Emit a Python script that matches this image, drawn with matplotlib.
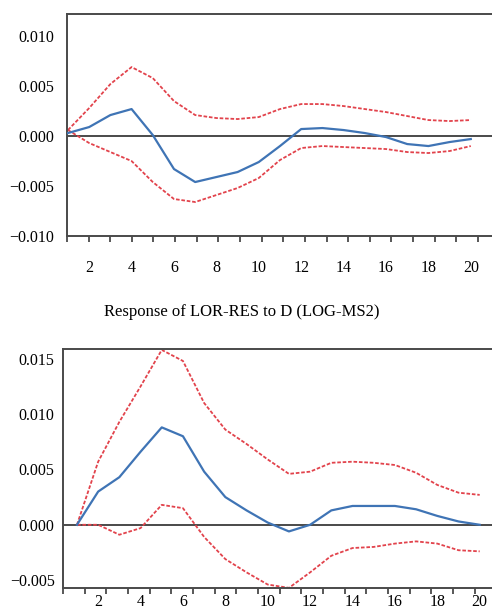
import matplotlib
matplotlib.use("Agg")
import matplotlib.pyplot as plt
import numpy as np

plt.rcParams['font.family'] = ['Liberation Serif', 'DejaVu Serif']
plt.rcParams['font.size'] = 11.5

periods = list(range(1, 21))

# top panel: response (blue) and +/- 2 s.e. bands (red)
top_resp = [0.0003, 0.0009, 0.0021, 0.0027, 0.0001, -0.0033, -0.0046, -0.0041, -0.0036, -0.0026,
            -0.0010, 0.0007, 0.0008, 0.0006, 0.0003, -0.0001, -0.0008, -0.0010, -0.0006, -0.0003]
top_upper = [0.0006, 0.0028, 0.0052, 0.0069, 0.0058, 0.0035, 0.0021, 0.0018, 0.0017, 0.0019,
             0.0027, 0.0032, 0.0032, 0.0030, 0.0027, 0.0024, 0.0020, 0.0016, 0.0015, 0.0016]
top_lower = [0.0006, -0.0007, -0.0016, -0.0025, -0.0046, -0.0063, -0.0066, -0.0059, -0.0052, -0.0042,
             -0.0024, -0.0012, -0.0010, -0.0011, -0.0012, -0.0013, -0.0016, -0.0017, -0.0015, -0.0010]

# bottom panel: Response of LOR-RES to D (LOG-MS2)
bot_resp = [0.0, 0.0030, 0.0043, 0.0066, 0.0088, 0.0080, 0.0048, 0.0025, 0.0013, 0.0002,
            -0.0006, 0.0000, 0.0013, 0.0017, 0.0017, 0.0017, 0.0014, 0.0008, 0.0003, 0.0000]
bot_upper = [0.0, 0.0057, 0.0093, 0.0125, 0.0158, 0.0148, 0.0110, 0.0086, 0.0073, 0.0059,
             0.0046, 0.0048, 0.0056, 0.0057, 0.0056, 0.0054, 0.0047, 0.0036, 0.0029, 0.0027]
bot_lower = [0.0, 0.0, -0.0009, -0.0003, 0.0018, 0.0015, -0.0011, -0.0031, -0.0043, -0.0054,
             -0.0057, -0.0043, -0.0028, -0.0021, -0.0020, -0.0017, -0.0015, -0.0017, -0.0023, -0.0024]

title = "Response of LOR-RES to D (LOG-MS2)"
x_labels = [2, 4, 6, 8, 10, 12, 14, 16, 18, 20]
top_yticks = [0.010, 0.005, 0.000, -0.005, -0.010]
bot_yticks = [0.015, 0.010, 0.005, 0.000, -0.005]

BLUE = '#3f74b5'
RED = '#e2434c'
GRAY = '#4a4a4a'

fig = plt.figure(figsize=(4.92, 6.13), dpi=100)
ax1 = fig.add_axes([0.136, 0.615, 0.864, 0.362])
ax2 = fig.add_axes([0.128, 0.041, 0.872, 0.390])


def fmt(v):
    s = f"{abs(v):.3f}"
    return ("\u2212" + s) if v < 0 else s


def style(ax, resp, upper, lower, xlim, ylim, yticks, tick_lo, tick_hi, xpad, ypad):
    ax.axhline(0, color=GRAY, lw=1.4, zorder=1)
    ax.plot(periods, upper, color=RED, lw=1.3, ls=(0, (2, 1)), zorder=2)
    ax.plot(periods, lower, color=RED, lw=1.3, ls=(0, (2, 1)), zorder=2)
    ax.plot(periods, resp, color=BLUE, lw=1.6, zorder=3)
    ax.set_xlim(*xlim)
    ax.set_ylim(*ylim)
    ax.set_yticks(yticks)
    ax.set_yticklabels([fmt(v) for v in yticks])
    ax.tick_params(axis='y', length=0, pad=ypad)
    # tick marks between periods, labels at every second period
    ax.set_xticks(np.linspace(tick_lo, tick_hi, 20))
    ax.set_xticklabels([])
    ax.tick_params(axis='x', which='major', direction='out', length=4.5, width=1.3, color=GRAY)
    ax.set_xticks(x_labels, minor=True)
    ax.set_xticklabels([str(v) for v in x_labels], minor=True)
    ax.tick_params(axis='x', which='minor', length=0, pad=xpad)
    for side in ['left', 'top', 'bottom']:
        ax.spines[side].set_color(GRAY)
        ax.spines[side].set_linewidth(1.4)
    ax.spines['right'].set_visible(False)


style(ax1, top_resp, top_upper, top_lower, (0.95, 21.0), (-0.010, 0.0122), top_yticks,
      0.95, 20.34, 17, 9)
style(ax2, bot_resp, bot_upper, bot_lower, (0.34, 20.58), (-0.0057, 0.0159), bot_yticks,
      0.34, 19.77, 4.5, 6)

fig.text(0.492, 0.491, title, ha='center', va='center', fontsize=12)

fig.savefig('out.png', dpi=100)
